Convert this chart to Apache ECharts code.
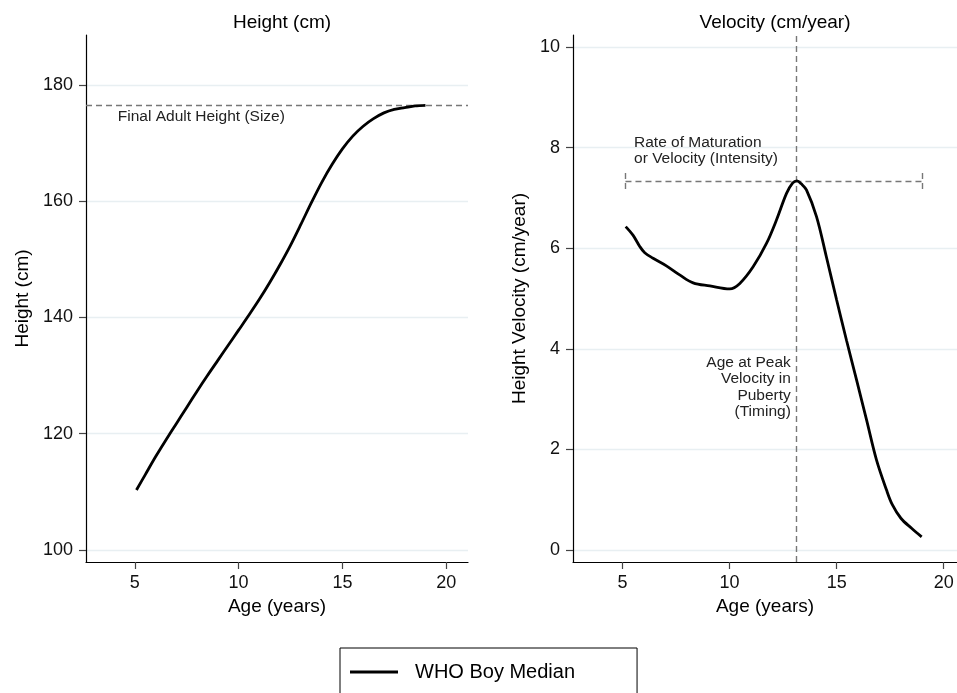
<!DOCTYPE html>
<html>
<head>
<meta charset="utf-8">
<script src="https://cdn.jsdelivr.net/npm/echarts@6/dist/echarts.min.js"></script>
<style>html,body{margin:0;padding:0;background:#fff}#c{width:957px;height:693px}</style>
</head>
<body>
<div id="c"></div>
<script>
// ---- data ----
const heightAges = [5.08,5.5,6,6.5,7,7.5,8,8.5,9,9.5,10,10.5,11,11.5,12,12.5,13,13.5,14,14.5,15,15.5,16,16.5,17,17.5,18,18.5,19];
const heightValues = [110.3,112.9,116.0,118.9,121.7,124.5,127.3,130.0,132.6,135.2,137.8,140.4,143.1,146.0,149.1,152.4,156.0,159.7,163.2,166.3,169.0,171.2,172.9,174.2,175.2,175.8,176.1,176.4,176.5];
const velocityAges = [5.15,5.49,5.8,6.04,6.43,7.05,7.67,8.30,9.08,10.01,10.48,11.10,11.73,12.19,12.66,12.95,13.15,13.35,13.59,14.06,14.52,15.0,15.46,15.93,16.40,16.86,17.33,17.6,18.0,18.5,18.97];
const velocityValues = [6.43,6.26,6.04,5.91,5.80,5.65,5.47,5.31,5.25,5.19,5.30,5.63,6.10,6.56,7.09,7.30,7.34,7.28,7.16,6.63,5.83,4.97,4.17,3.38,2.58,1.79,1.19,0.90,0.63,0.43,0.26];
const xTicks = [5,10,15,20];
const heightTicks = [100,120,140,160,180];
const velocityTicks = [0,2,4,6,8,10];
const finalHeight = 176.56;
const peakAge = 13.13;
const peakVelocity = 7.34;
const intensityRange = [5.14, 18.99];
const capRange = [7.18, 7.51];
const labelFinal = {x: 4.18, y: 174.5, text: 'Final Adult Height (Size)'};
const labelIntensity = {x: 5.54, y: 7.94, text: 'Rate of Maturation\nor Velocity (Intensity)'};
const labelTiming = {x: 12.86, y: 3.24, text: 'Age at Peak\nVelocity in\nPuberty\n(Timing)'};
const seriesName = 'WHO Boy Median';

// ---- chart ----
const FONT = '"Liberation Sans", Arial, Helvetica, sans-serif';
const chart = echarts.init(document.getElementById('c'), null, {renderer: 'canvas'});
const dash = {type: [6, 4], color: '#777', width: 1.4};

function xAxisCfg(gridIndex, min, max) {
  return {
    type: 'value', gridIndex, min, max,
    name: 'Age (years)', nameLocation: 'middle', nameGap: 31,
    nameTextStyle: {fontFamily: FONT, fontSize: 19, color: '#000'},
    axisLine: {show: true, onZero: false, lineStyle: {color: '#000', width: 1.2}},
    axisTick: {show: true, length: 7, lineStyle: {color: '#444', width: 1.2}, customValues: xTicks},
    axisLabel: {fontFamily: FONT, fontSize: 18, color: '#111', margin: 12, customValues: xTicks},
    splitLine: {show: false}
  };
}
function yAxisCfg(gridIndex, min, max, ticks, name, gap) {
  return {
    type: 'value', gridIndex, min, max,
    name, nameLocation: 'middle', nameGap: gap,
    nameTextStyle: {fontFamily: FONT, fontSize: 19, color: '#000'},
    axisLine: {show: true, onZero: false, lineStyle: {color: '#000', width: 1.2}},
    axisTick: {show: true, length: 7, lineStyle: {color: '#444', width: 1.2}, customValues: ticks},
    axisLabel: {fontFamily: FONT, fontSize: 18, color: '#111', margin: 13, customValues: ticks},
    splitLine: {show: true, lineStyle: {color: '#e8eff2', width: 1.3}}
  };
}
function textPoint(l, align) {
  return {
    coord: [l.x, l.y], value: 0,
    label: {show: true, formatter: l.text, position: [0, 0], align: align, verticalAlign: 'middle',
      fontFamily: FONT, fontSize: 15.5, lineHeight: 16.5, color: '#222'}
  };
}

const option = {
  animation: false,
  backgroundColor: '#fff',
  title: [
    {text: 'Height (cm)', left: 277, top: 8, textAlign: 'center',
     textStyle: {fontFamily: FONT, fontSize: 19, fontWeight: 'normal', color: '#000'}},
    {text: 'Velocity (cm/year)', left: 770, top: 8, textAlign: 'center',
     textStyle: {fontFamily: FONT, fontSize: 19, fontWeight: 'normal', color: '#000'}}
  ],
  legend: {
    show: true,
    data: [{name: seriesName, icon: 'rect'}], left: 340, top: 648,
    padding: [14, 62, 30, 10],
    borderColor: '#000', borderWidth: 1,
    itemWidth: 48, itemHeight: 3, itemGap: 0,
    itemStyle: {color: '#000'},
    textStyle: {fontFamily: FONT, fontSize: 20, color: '#000', padding: [0, 0, 0, 12]}
  },
  grid: [
    {left: 86, top: 35, width: 382, height: 527},
    {left: 573, top: 35, width: 384, height: 527}
  ],
  xAxis: [xAxisCfg(0, 2.65, 21.05), xAxisCfg(1, 2.69, 20.62)],
  yAxis: [
    yAxisCfg(0, 97.9, 188.6, heightTicks, 'Height (cm)', 54),
    yAxisCfg(1, -0.24, 10.24, velocityTicks, 'Height Velocity (cm/year)', 44)
  ],
  series: [
    {
      name: seriesName, type: 'line', xAxisIndex: 0, yAxisIndex: 0,
      data: heightAges.map((a, i) => [a, heightValues[i]]),
      showSymbol: false, symbol: 'none', smooth: 0.3,
      lineStyle: {color: '#000', width: 2.8},
      itemStyle: {color: '#000'},
      z: 5,
      markLine: {
        silent: true, symbol: ['none', 'none'], label: {show: false},
        lineStyle: dash,
        data: [{yAxis: finalHeight}]
      },
      markPoint: {
        symbol: 'circle', symbolSize: 0, silent: true,
        data: [textPoint(labelFinal, 'left')]
      }
    },
    {
      name: seriesName, type: 'line', xAxisIndex: 1, yAxisIndex: 1,
      data: velocityAges.map((a, i) => [a, velocityValues[i]]),
      showSymbol: false, symbol: 'none', smooth: 0.35,
      lineStyle: {color: '#000', width: 2.8},
      itemStyle: {color: '#000'},
      z: 5,
      markLine: {
        silent: true, symbol: ['none', 'none'], label: {show: false},
        lineStyle: dash,
        data: [
          {xAxis: peakAge},
          [{coord: [intensityRange[0], peakVelocity]}, {coord: [intensityRange[1], peakVelocity]}],
          [{coord: [intensityRange[0], capRange[0]]}, {coord: [intensityRange[0], capRange[1]]}],
          [{coord: [intensityRange[1], capRange[0]]}, {coord: [intensityRange[1], capRange[1]]}]
        ]
      },
      markPoint: {
        symbol: 'circle', symbolSize: 0, silent: true,
        data: [textPoint(labelIntensity, 'left'), textPoint(labelTiming, 'right')]
      }
    }
  ]
};
chart.setOption(option);
</script>
</body>
</html>
